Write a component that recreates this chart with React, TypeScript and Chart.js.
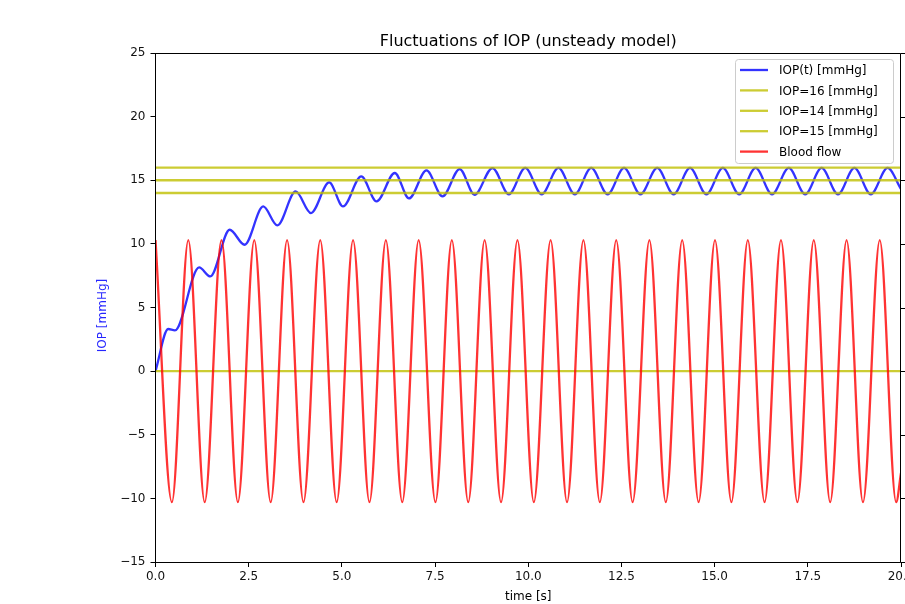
import React, { useEffect, useRef } from 'react';
import { Chart, registerables } from 'chart.js';

Chart.register(...registerables);

// ---- data ----
const iopT = [
  0, 0.34, 0.52, 1.17, 1.47, 1.99, 2.39, 2.89, 3.27, 3.76, 4.17, 4.66, 5.03, 5.52, 5.93,
  6.42, 6.8, 7.27, 7.7, 8.16, 8.56, 9.04, 9.48, 9.92, 10.36, 10.81, 11.25, 11.69, 12.13,
  12.57, 13.01, 13.46, 13.9, 14.34, 14.78, 15.22, 15.66, 16.1, 16.54, 16.99, 17.43, 17.87,
  18.31, 18.75, 19.19, 19.64, 20.0,
];
const iopV = [
  0, 3.31, 3.2, 8.15, 7.44, 11.11, 9.93, 12.94, 11.45, 14.12, 12.42, 14.83, 12.94, 15.3, 13.34,
  15.57, 13.57, 15.77, 13.73, 15.88, 13.86, 15.96, 13.9, 15.97, 13.9, 15.97, 13.9, 15.97, 13.9,
  15.97, 13.9, 15.97, 13.9, 15.97, 13.9, 15.97, 13.9, 15.97, 13.9, 15.97, 13.9, 15.97,
  13.9, 15.97, 13.9, 15.97, 14.3,
];
const flowT = [
  0, 0.44, 0.88, 1.32, 1.77, 2.21, 2.65, 3.09, 3.53, 3.97, 4.42, 4.86, 5.3, 5.74, 6.18, 6.62,
  7.06, 7.51, 7.95, 8.39, 8.83, 9.27, 9.71, 10.15, 10.6, 11.04, 11.48, 11.92, 12.36, 12.8,
  13.25, 13.69, 14.13, 14.57, 15.01, 15.45, 15.89, 16.34, 16.78, 17.22, 17.66, 18.1, 18.54,
  18.98, 19.43, 19.87, 20.0,
];
const flowV = [
  10.3, -10.3, 10.3, -10.3, 10.3, -10.3, 10.3, -10.3, 10.3, -10.3, 10.3, -10.3, 10.3, -10.3,
  10.3, -10.3, 10.3, -10.3, 10.3, -10.3, 10.3, -10.3, 10.3, -10.3, 10.3, -10.3, 10.3, -10.3,
  10.3, -10.3, 10.3, -10.3, 10.3, -10.3, 10.3, -10.3, 10.3, -10.3, 10.3, -10.3, 10.3, -10.3,
  10.3, -10.3, 10.3, -10.3, -8.0,
];
const thresholdLevels = [16, 14, 15];
const thresholdLabels = ['IOP=16 [mmHg]', 'IOP=14 [mmHg]', 'IOP=15 [mmHg]'];
const baselineLevel = 0;
const xMin = 0;
const xMax = 20;
const xStep = 2.5;
const yMin = -15;
const yMax = 25;
const yStep = 5;
const titleText = 'Fluctuations of IOP (unsteady model)';
const xTitle = 'time [s]';
const yTitle = 'IOP [mmHg]';
const iopLabel = 'IOP(t) [mmHg]';
const flowLabel = 'Blood flow';

const BLUE = 'rgba(0,0,255,0.8)';
const RED = 'rgba(255,0,0,0.8)';
const YELLOW = 'rgba(191,191,0,0.8)';
const FONT = "'DejaVu Sans', sans-serif";
const LW = 2.3;

const decorPlugin = {
  id: 'mplDecor',
  afterDraw(chart: any) {
    const { ctx, chartArea: a, scales } = chart;
    ctx.save();
    const L = Math.floor(a.left) + 0.5;
    const R = Math.floor(a.right) - 0.5;
    const T = Math.floor(a.top) + 0.5;
    const B = Math.floor(a.bottom) + 0.5;
    ctx.strokeStyle = '#000';
    ctx.lineWidth = 1;
    ctx.beginPath();
    ctx.moveTo(L, T);
    ctx.lineTo(R, T);
    ctx.lineTo(R, B);
    ctx.lineTo(L, B);
    ctx.closePath();
    ctx.stroke();
    // right-side ticks (twin axis)
    ctx.beginPath();
    for (const t of scales.y.ticks) {
      const py = Math.round(scales.y.getPixelForValue(t.value)) + 0.5;
      ctx.moveTo(R, py);
      ctx.lineTo(R + 5, py);
    }
    ctx.stroke();

    // title
    ctx.fillStyle = '#000';
    ctx.font = `16px ${FONT}`;
    ctx.textAlign = 'center';
    ctx.textBaseline = 'alphabetic';
    ctx.fillText(titleText, (a.left + a.right) / 2, 46);

    // x title
    ctx.font = `12px ${FONT}`;
    ctx.textBaseline = 'top';
    ctx.fillText(xTitle, (a.left + a.right) / 2, 591);

    // y title
    ctx.save();
    ctx.translate(103, (a.top + a.bottom) / 2 + 8);
    ctx.rotate(-Math.PI / 2);
    ctx.fillStyle = 'rgba(0,0,255,0.85)';
    ctx.textBaseline = 'middle';
    ctx.fillText(yTitle, 0, 0);
    ctx.restore();

    // legend
    const items = chart.data.datasets.filter((d: any) => d.showInLegend);
    const bw = 158;
    const bh = 104;
    const bx = a.right - 8 - bw;
    const by = a.top + 6;
    ctx.beginPath();
    ctx.roundRect(bx + 0.5, by + 0.5, bw, bh, 3);
    ctx.fillStyle = 'rgba(255,255,255,0.8)';
    ctx.fill();
    ctx.strokeStyle = '#cccccc';
    ctx.lineWidth = 1;
    ctx.stroke();
    ctx.font = `12px ${FONT}`;
    ctx.textAlign = 'left';
    ctx.textBaseline = 'middle';
    items.forEach((d: any, i: number) => {
      const cy = by + 11 + i * 20.4;
      ctx.beginPath();
      ctx.strokeStyle = d.borderColor;
      ctx.lineWidth = LW;
      ctx.moveTo(bx + 5, cy);
      ctx.lineTo(bx + 33, cy);
      ctx.stroke();
      ctx.fillStyle = '#000';
      ctx.fillText(d.label, bx + 44, cy + 1);
    });
    ctx.restore();
  },
};

function pts(xs: number[], ys: number[]) {
  return xs.map((x, i) => ({ x, y: ys[i] }));
}

export default function App() {
  const ref = useRef<HTMLCanvasElement | null>(null);
  useEffect(() => {
    if (!ref.current) return;
    const datasets: any[] = [
      {
        label: iopLabel,
        data: pts(iopT, iopV),
        borderColor: BLUE,
        borderWidth: LW,
        pointRadius: 0,
        cubicInterpolationMode: 'monotone',
        order: 3,
        showInLegend: true,
      },
      ...thresholdLevels.map((lv, i) => ({
        label: thresholdLabels[i],
        data: pts([xMin, xMax], [lv, lv]),
        borderColor: YELLOW,
        borderWidth: LW,
        pointRadius: 0,
        order: 2,
        showInLegend: true,
      })),
      {
        label: flowLabel,
        data: pts(flowT, flowV),
        borderColor: RED,
        borderWidth: LW,
        pointRadius: 0,
        cubicInterpolationMode: 'monotone',
        order: 0,
        showInLegend: true,
      },
      {
        label: '',
        data: pts([xMin, xMax], [baselineLevel, baselineLevel]),
        borderColor: YELLOW,
        borderWidth: LW,
        pointRadius: 0,
        order: 1,
        showInLegend: false,
      },
    ];
    const tickFont = { family: FONT, size: 12 };
    const chart = new Chart(ref.current, {
      type: 'line',
      data: { datasets },
      options: {
        animation: false,
        responsive: false,
        devicePixelRatio: 1,
        events: [],
        layout: { autoPadding: false, padding: { top: 53, right: 4, left: 0, bottom: 0 } },
        plugins: { legend: { display: false }, title: { display: false }, tooltip: { enabled: false } },
        scales: {
          x: {
            type: 'linear',
            min: xMin,
            max: xMax,
            grid: { drawOnChartArea: false, drawTicks: true, tickLength: 5, color: '#000' },
            border: { display: false },
            ticks: {
              stepSize: xStep,
              autoSkip: false,
              maxRotation: 0,
              padding: 3,
              color: '#111',
              font: tickFont,
              callback: (v: any) => Number(v).toFixed(1),
            },
            afterFit: (s: any) => {
              s.height = 42;
              s.paddingLeft = 0;
              s.paddingRight = 0;
            },
          },
          y: {
            type: 'linear',
            min: yMin,
            max: yMax,
            grid: { drawOnChartArea: false, drawTicks: true, tickLength: 5, color: '#000' },
            border: { display: false },
            ticks: {
              stepSize: yStep,
              padding: 5,
              color: '#111',
              font: tickFont,
              callback: (v: any) => String(v).replace('-', '\u2212'),
            },
            afterFit: (s: any) => {
              s.width = 155.5;
              s.paddingTop = 0;
              s.paddingBottom = 0;
            },
          },
        },
      },
      plugins: [decorPlugin],
    } as any);
    return () => chart.destroy();
  }, []);
  return (
    <div style={{ position: 'fixed', left: 0, top: 0, width: 905, height: 604, background: '#fff' }}>
      <canvas ref={ref} width={905} height={604} style={{ display: 'block' }} />
    </div>
  );
}
